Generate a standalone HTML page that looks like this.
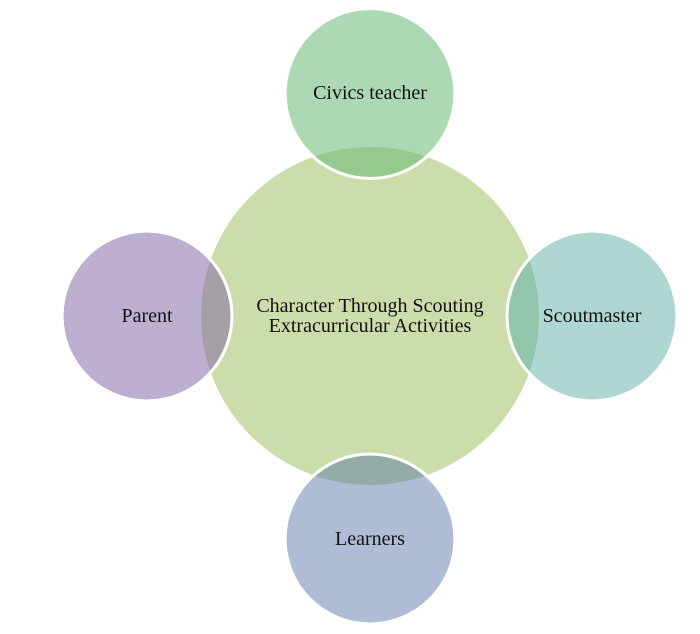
<!DOCTYPE html>
<html>
<head>
<meta charset="utf-8">
<style>
  html, body { margin: 0; padding: 0; background: #ffffff; }
  body { width: 700px; height: 634px; overflow: hidden; }
  svg { display: block; }
  text { font-family: "Liberation Serif", "Times New Roman", serif; font-size: 20px; fill: #111111; }
</style>
</head>
<body>
<svg width="700" height="634" viewBox="0 0 700 634" xmlns="http://www.w3.org/2000/svg">
  <defs>
    <clipPath id="big">
      <circle cx="370" cy="316" r="169"/>
    </clipPath>
  </defs>

  <!-- Central circle -->
  <circle cx="370" cy="316" r="169" fill="#cddcab"/>

  <!-- Top: Civics teacher -->
  <circle cx="370" cy="93.5" r="83.5" fill="#acd9b3"/>
  <circle cx="370" cy="93.5" r="83.5" fill="#95c98d" clip-path="url(#big)"/>
  <circle cx="370" cy="93.5" r="85" fill="none" stroke="#ffffff" stroke-width="3"/>

  <!-- Left: Parent -->
  <circle cx="147" cy="316" r="83.5" fill="#bdafd0"/>
  <circle cx="147" cy="316" r="83.5" fill="#a5a0a7" clip-path="url(#big)"/>
  <circle cx="147" cy="316" r="85" fill="none" stroke="#ffffff" stroke-width="3"/>

  <!-- Right: Scoutmaster -->
  <circle cx="592" cy="316" r="83.5" fill="#afd7d2"/>
  <circle cx="592" cy="316" r="83.5" fill="#93c5ad" clip-path="url(#big)"/>
  <circle cx="592" cy="316" r="85" fill="none" stroke="#ffffff" stroke-width="3"/>

  <!-- Bottom: Learners -->
  <circle cx="370" cy="539" r="83.5" fill="#afbcd5"/>
  <circle cx="370" cy="539" r="83.5" fill="#95aba8" clip-path="url(#big)"/>
  <circle cx="370" cy="539" r="85" fill="none" stroke="#ffffff" stroke-width="3"/>

  <!-- Labels -->
  <text x="370" y="312" text-anchor="middle">Character Through Scouting</text>
  <text x="370" y="332" text-anchor="middle">Extracurricular Activities</text>
  <text x="370" y="99" text-anchor="middle">Civics teacher</text>
  <text x="147" y="322" text-anchor="middle">Parent</text>
  <text x="592" y="322" text-anchor="middle">Scoutmaster</text>
  <text x="370" y="545" text-anchor="middle">Learners</text>
</svg>
</body>
</html>
